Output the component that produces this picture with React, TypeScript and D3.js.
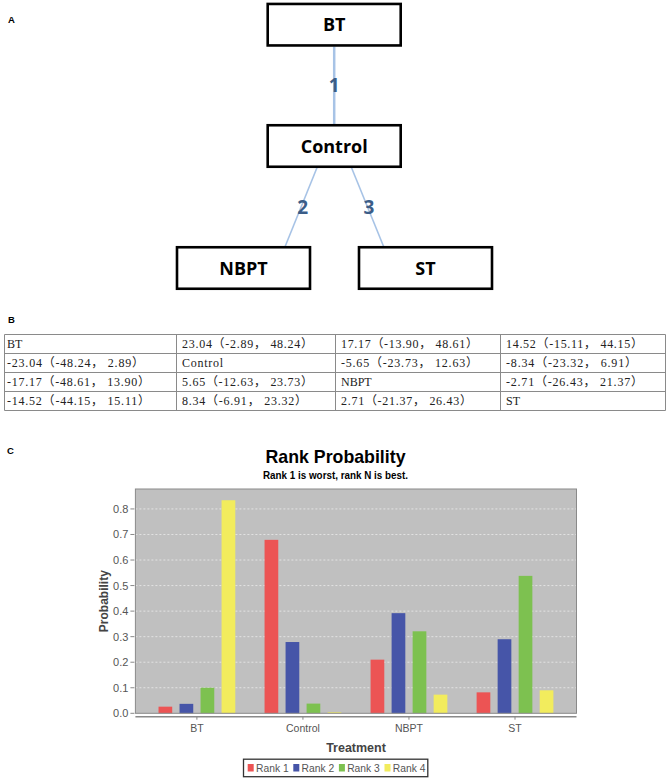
import React from "react";
import * as d3 from "d3";

const W = 669;
const H = 779;

// ---------- Panel A: network ----------
const networkNodes = ["BT", "Control", "NBPT", "ST"];
const networkEdges: [string, string, string][] = [
  ["BT", "Control", "1"],
  ["Control", "NBPT", "2"],
  ["Control", "ST", "3"],
];

// ---------- Panel B: league table ----------
const tableRow1 = ["BT", "23.04（-2.89， 48.24）", "17.17（-13.90， 48.61）", "14.52（-15.11， 44.15）"];
const tableRow2 = ["-23.04（-48.24， 2.89）", "Control", "-5.65（-23.73， 12.63）", "-8.34（-23.32， 6.91）"];
const tableRow3 = ["-17.17（-48.61， 13.90）", "5.65（-12.63， 23.73）", "NBPT", "-2.71（-26.43， 21.37）"];
const tableRow4 = ["-14.52（-44.15， 15.11）", "8.34（-6.91， 23.32）", "2.71（-21.37， 26.43）", "ST"];
const tableRows = [tableRow1, tableRow2, tableRow3, tableRow4];

// ---------- Panel C: rank probability ----------
const treatments = ["BT", "Control", "NBPT", "ST"];
const rankLabels = ["Rank 1", "Rank 2", "Rank 3", "Rank 4"];
const rank1 = [0.026, 0.679, 0.21, 0.082];
const rank2 = [0.037, 0.279, 0.392, 0.29];
const rank3 = [0.1, 0.038, 0.321, 0.538];
const rank4 = [0.834, 0.004, 0.073, 0.09];
const rankValues = [rank1, rank2, rank3, rank4];
const rankColors = ["#ec5454", "#4655a8", "#7dc150", "#f2ec5d"];
const yTickValues = [0, 0.1, 0.2, 0.3, 0.4, 0.5, 0.6, 0.7, 0.8];

// layout for network boxes (centers)
const nodeLayout: Record<string, { cx: number; cy: number }> = {
  BT: { cx: 334.2, cy: 24.7 },
  Control: { cx: 334.2, cy: 146 },
  NBPT: { cx: 243.5, cy: 268 },
  ST: { cx: 425.5, cy: 268 },
};
const boxW = 133;
const boxH = 41.5;

function halfWidthCount(s: string) {
  let n = 0;
  for (const ch of s) n += ch.charCodeAt(0) > 0x2000 ? 2 : 1;
  return n;
}

function NetworkPanel() {
  const edgeEnds = (a: string, b: string) => {
    const A = nodeLayout[a];
    const B = nodeLayout[b];
    const y1 = A.cy + boxH / 2 + 1;
    const y2 = B.cy - boxH / 2 - 1;
    const dx = B.cx - A.cx;
    const x1 = A.cx + dx * 0.19;
    const x2 = B.cx - dx * 0.46;
    return { x1, y1, x2, y2 };
  };
  return (
    <g>
      {networkEdges.map(([a, b, lbl]) => {
        const e = edgeEnds(a, b);
        const vertical = Math.abs(e.x2 - e.x1) < 1;
        return (
          <g key={lbl}>
            <line x1={e.x1} y1={e.y1} x2={e.x2} y2={e.y2} stroke="#a7c3e6" strokeWidth={vertical ? 2.5 : 1.6} />
            <text
              x={(e.x1 + e.x2) / 2 + (vertical ? 0 : 1.5)}
              y={(e.y1 + e.y2) / 2 + 7}
              textAnchor="middle"
              fontFamily="'Open Sans', sans-serif"
              fontWeight={700}
              fontSize={19}
              fill="#3b5d88"
            >
              {lbl}
            </text>
          </g>
        );
      })}
      {networkNodes.map((n) => {
        const p = nodeLayout[n];
        return (
          <g key={n}>
            <rect x={p.cx - boxW / 2} y={p.cy - boxH / 2} width={boxW} height={boxH} fill="#fff" stroke="#000" strokeWidth={2.6} />
            <text x={p.cx} y={p.cy + 6.5} textAnchor="middle" fontFamily="'Open Sans', sans-serif" fontWeight={700} fontSize={18} fill="#000">
              {n}
            </text>
          </g>
        );
      })}
    </g>
  );
}

function TablePanel() {
  const colEdges = [4.5, 176.5, 335.5, 500.5, 665.5];
  const top = 334.5;
  const rowH = 19;
  const nRows = tableRows.length;
  return (
    <g>
      {d3.range(nRows + 1).map((i) => (
        <line key={"h" + i} x1={colEdges[0]} x2={colEdges[colEdges.length - 1]} y1={top + i * rowH} y2={top + i * rowH} stroke="#8a8a8a" strokeWidth={1} />
      ))}
      {colEdges.map((x, i) => (
        <line key={"v" + i} x1={x} x2={x} y1={top} y2={top + nRows * rowH} stroke="#8a8a8a" strokeWidth={1} />
      ))}
      {tableRows.map((row, r) =>
        row.map((cell, c) => {
          const stretch = cell.length >= 5;
          return (
            <text
              key={r + "-" + c}
              x={colEdges[c] + (c === 0 ? 2.5 : 5.5)}
              y={top + r * rowH + 13.5}
              fontFamily="'Liberation Serif', 'Noto Sans CJK SC', serif"
              fontSize={12}
              fill="#222"
              textLength={stretch ? halfWidthCount(cell) * 6 - 1 : undefined}
              lengthAdjust={stretch ? "spacing" : undefined}
            >
              {cell}
            </text>
          );
        })
      )}
    </g>
  );
}

function RankChart() {
  const plotLeft = 135.4;
  const plotRight = 576.5;
  const plotTop = 489;
  const plotBottom = 713.3;

  const x = d3.scaleBand<string>().domain(treatments).range([plotLeft, plotRight]).paddingInner(0.276).paddingOuter(0.218);
  const xs = d3.scaleBand<string>().domain(rankLabels).range([0, x.bandwidth()]).paddingInner(0.348).paddingOuter(0);
  const y = d3.scaleLinear().domain([0, 0.878]).range([plotBottom, plotTop]);
  const fmt = d3.format(".1f");
  const axisY = plotBottom + 3.4;

  return (
    <g>
      <text x={335.5} y={463} textAnchor="middle" fontFamily="'Liberation Sans', Arial, sans-serif" fontWeight={700} fontSize={19} fill="#000" textLength={140} lengthAdjust="spacingAndGlyphs">
        Rank Probability
      </text>
      <text x={335.5} y={478.5} textAnchor="middle" fontFamily="'Liberation Sans', Arial, sans-serif" fontWeight={700} fontSize={11} fill="#000" textLength={145} lengthAdjust="spacingAndGlyphs">
        Rank 1 is worst, rank N is best.
      </text>

      <rect x={plotLeft} y={plotTop} width={plotRight - plotLeft} height={plotBottom - plotTop} fill="#c0c0c0" />
      {yTickValues.map((t) => (
        <g key={t}>
          {t > 0 && (
            <line x1={plotLeft} x2={plotRight} y1={y(t)} y2={y(t)} stroke="#ececec" strokeWidth={0.8} strokeDasharray="2,2" />
          )}
          <line x1={plotLeft - 5} x2={plotLeft - 1} y1={y(t)} y2={y(t)} stroke="#888" strokeWidth={1} />
          <text x={plotLeft - 7} y={y(t) + 4} textAnchor="end" fontFamily="'Liberation Sans', Arial, sans-serif" fontSize={11} fill="#555">
            {fmt(t)}
          </text>
        </g>
      ))}

      {treatments.map((cat, ci) => (
        <g key={cat} transform={`translate(${x(cat)},0)`}>
          {rankLabels.map((rl, si) => {
            const v = rankValues[si][ci];
            return (
              <rect key={rl} x={xs(rl)} y={y(v)} width={xs.bandwidth()} height={y(0) - y(v)} fill={rankColors[si]} />
            );
          })}
        </g>
      ))}

      <rect x={plotLeft} y={plotTop} width={plotRight - plotLeft} height={plotBottom - plotTop} fill="none" stroke="#8a8a8a" strokeWidth={1} />
      <line x1={plotLeft} x2={plotRight} y1={axisY} y2={axisY} stroke="#8a8a8a" strokeWidth={1.6} />
      {treatments.map((cat) => {
        const cx = (x(cat) as number) + x.bandwidth() / 2;
        return (
          <g key={cat}>
            <line x1={cx} x2={cx} y1={axisY} y2={axisY + 3} stroke="#888" strokeWidth={1} />
            <text x={cx} y={731.5} textAnchor="middle" fontFamily="'Liberation Sans', Arial, sans-serif" fontSize={10.5} fill="#555">
              {cat}
            </text>
          </g>
        );
      })}

      <text x={356} y={752} textAnchor="middle" fontFamily="'Liberation Sans', Arial, sans-serif" fontWeight={700} fontSize={12.5} fill="#444">
        Treatment
      </text>
      <text transform={`translate(107.5,${(plotTop + plotBottom) / 2}) rotate(-90)`} textAnchor="middle" fontFamily="'Liberation Sans', Arial, sans-serif" fontWeight={700} fontSize={12} fill="#444">
        Probability
      </text>

      <rect x={243.5} y={759.2} width={184.3} height={17.5} fill="#fff" stroke="#333" strokeWidth={1.3} />
      {rankLabels.map((rl, i) => {
        const lx = 247.7 + i * 45.6;
        return (
          <g key={rl}>
            <rect x={lx} y={764} width={6} height={7.5} fill={rankColors[i]} />
            <text x={lx + 8.3} y={771.5} fontFamily="'Liberation Sans', Arial, sans-serif" fontSize={10.3} fill="#555">
              {rl}
            </text>
          </g>
        );
      })}
    </g>
  );
}

export default function App() {
  return (
    <svg width={W} height={H} viewBox={`0 0 ${W} ${H}`} style={{ position: "absolute", left: 0, top: 0, display: "block", background: "#fff" }}>
      <rect x={0} y={0} width={W} height={H} fill="#fff" />
      <text x={8} y={23} fontFamily="'Liberation Sans', Arial, sans-serif" fontWeight={700} fontSize={9.5} fill="#000">A</text>
      <text x={8} y={323} fontFamily="'Liberation Sans', Arial, sans-serif" fontWeight={700} fontSize={9.5} fill="#000">B</text>
      <text x={7} y={453.5} fontFamily="'Liberation Sans', Arial, sans-serif" fontWeight={700} fontSize={9.5} fill="#000">C</text>
      <NetworkPanel />
      <TablePanel />
      <RankChart />
    </svg>
  );
}
